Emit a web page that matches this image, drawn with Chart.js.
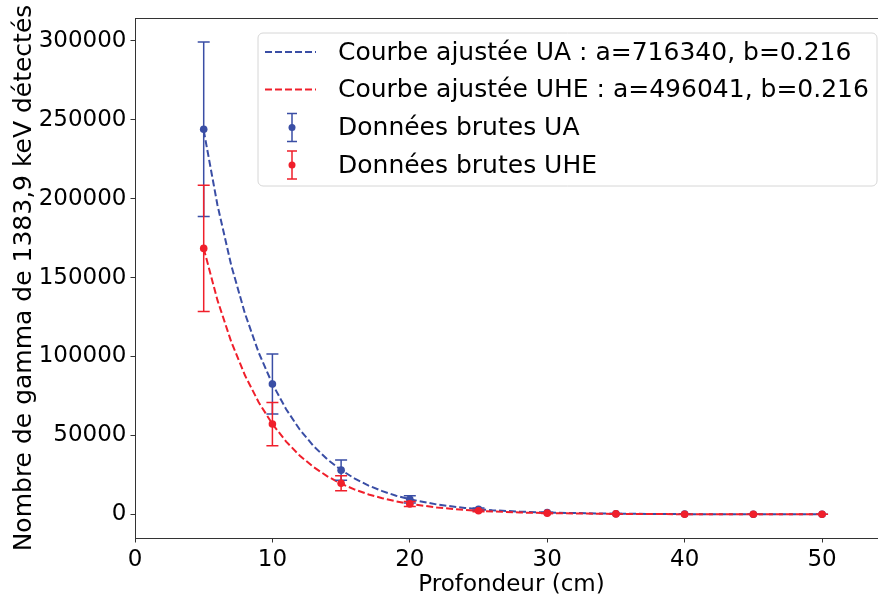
<!DOCTYPE html>
<html>
<head>
<meta charset="utf-8">
<script src="https://cdn.jsdelivr.net/npm/chart.js@4.4.1/dist/chart.umd.min.js"></script>
<style>
  html, body { margin: 0; padding: 0; background: #fff; overflow: hidden; }
  #wrap { width: 878px; height: 599px; overflow: hidden; }
</style>
</head>
<body>
<div id="wrap"><canvas id="graphe" width="888" height="599"></canvas></div>
<script>
// Données brutes
const profondeurs = [5, 10, 15, 20, 25, 30, 35, 40, 45, 50];
const valeursUA = [244000, 82600, 28000, 9500, 3200, 1100, 380, 130, 45, 15];
const erreursUA = [55300, 19000, 6400, 2300, 750, 250, 90, 30, 10, 3];
const valeursUHE = [168500, 57200, 19700, 6600, 2250, 760, 260, 90, 30, 10];
const erreursUHE = [40000, 13700, 4700, 1600, 540, 180, 60, 20, 7, 2];

// Courbes ajustées
const xCourbe = [5, 6, 7, 8, 9, 10, 11, 12, 13, 14, 15, 16, 17, 18, 19, 20, 22, 24, 26, 28, 30, 35, 40, 45, 50];
const courbeUA = [243300, 196000, 157900, 127300, 102500, 82600, 66600, 53600, 43200, 34800, 28100, 22600, 18200, 14700, 11800, 9530, 6190, 4020, 2610, 1690, 1100, 370, 130, 45, 15];
const courbeUHE = [168500, 135700, 109400, 88100, 71000, 57200, 46100, 37100, 29900, 24100, 19400, 15700, 12600, 10200, 8190, 6600, 4280, 2780, 1800, 1170, 760, 260, 90, 30, 10];

// Graduations
const ticksX = [0, 10, 20, 30, 40, 50];
const ticksY = [0, 50000, 100000, 150000, 200000, 250000, 300000];

// Légende
const libelles = [
    "Courbe ajustée UA : a=716340, b=0.216",
    "Courbe ajustée UHE : a=496041, b=0.216",
    "Données brutes UA",
    "Données brutes UHE"
];

const BLEU = "#3a4ea5";
const ROUGE = "#f01f2b";
const AXE = "#333";
const POLICE = "'DejaVu Sans', sans-serif";

function points(xs, ys) {
    return xs.map((x, i) => ({ x: x, y: ys[i] }));
}

// Barres d'erreur
const barresErreur = {
    id: "barresErreur",
    beforeDatasetDraw(chart, args) {
        const ds = chart.data.datasets[args.index];
        if (!ds.erreurs) return;
        const ctx = chart.ctx;
        const sx = chart.scales.x;
        const sy = chart.scales.y;
        ctx.save();
        ctx.strokeStyle = ds.borderColor;
        ctx.lineWidth = 1.5;
        ds.data.forEach((p, i) => {
            const px = sx.getPixelForValue(p.x);
            const haut = sy.getPixelForValue(p.y + ds.erreurs[i]);
            const bas = sy.getPixelForValue(p.y - ds.erreurs[i]);
            ctx.beginPath();
            ctx.moveTo(px, haut);
            ctx.lineTo(px, bas);
            ctx.moveTo(px - 6, haut);
            ctx.lineTo(px + 6, haut);
            ctx.moveTo(px - 6, bas);
            ctx.lineTo(px + 6, bas);
            ctx.stroke();
        });
        ctx.restore();
    }
};

// Cadre + légende
const cadreLegende = {
    id: "cadreLegende",
    afterDraw(chart) {
        const ctx = chart.ctx;
        const a = chart.chartArea;
        ctx.save();
        ctx.strokeStyle = AXE;
        ctx.lineWidth = 1;
        ctx.strokeRect(a.left + 0.5, a.top + 0.5, a.right - a.left - 1, a.bottom - a.top);

        // boîte
        const bx = 258, by = 33, bw = 619, bh = 153, r = 5;
        ctx.beginPath();
        ctx.moveTo(bx + r, by);
        ctx.arcTo(bx + bw, by, bx + bw, by + bh, r);
        ctx.arcTo(bx + bw, by + bh, bx, by + bh, r);
        ctx.arcTo(bx, by + bh, bx, by, r);
        ctx.arcTo(bx, by, bx + bw, by, r);
        ctx.closePath();
        ctx.fillStyle = "rgba(255,255,255,0.8)";
        ctx.fill();
        ctx.strokeStyle = "#d6d6d6";
        ctx.stroke();

        const lignes = [52, 89.5, 127.5, 165];
        const couleurs = [BLEU, ROUGE, BLEU, ROUGE];
        ctx.font = "25px " + POLICE;
        ctx.textBaseline = "middle";
        libelles.forEach((t, i) => {
            const y = lignes[i];
            ctx.strokeStyle = couleurs[i];
            ctx.fillStyle = couleurs[i];
            if (i < 2) {
                ctx.lineWidth = 2;
                ctx.setLineDash([7, 3]);
                ctx.beginPath();
                ctx.moveTo(265, y);
                ctx.lineTo(316, y);
                ctx.stroke();
                ctx.setLineDash([]);
            } else {
                ctx.lineWidth = 1.5;
                ctx.beginPath();
                ctx.moveTo(292, y - 14);
                ctx.lineTo(292, y + 14);
                ctx.moveTo(287, y - 14);
                ctx.lineTo(297, y - 14);
                ctx.moveTo(287, y + 14);
                ctx.lineTo(297, y + 14);
                ctx.stroke();
                ctx.beginPath();
                ctx.arc(292, y, 3.5, 0, Math.PI * 2);
                ctx.fill();
            }
            ctx.fillStyle = "#000";
            ctx.fillText(t, 338, y + 1);
        });
        ctx.restore();
    }
};

const ctx = document.getElementById("graphe");

new Chart(ctx, {
    type: "scatter",
    data: {
        datasets: [
            {
                label: libelles[0],
                data: points(xCourbe, courbeUA),
                showLine: true,
                borderColor: BLEU,
                borderWidth: 2,
                borderDash: [7, 3],
                pointRadius: 0,
                tension: 0,
                order: 4
            },
            {
                label: libelles[1],
                data: points(xCourbe, courbeUHE),
                showLine: true,
                borderColor: ROUGE,
                borderWidth: 2,
                borderDash: [7, 3],
                pointRadius: 0,
                tension: 0,
                order: 3
            },
            {
                label: libelles[2],
                data: points(profondeurs, valeursUA),
                erreurs: erreursUA,
                borderColor: BLEU,
                backgroundColor: BLEU,
                pointRadius: 3.8,
                pointBorderWidth: 0,
                order: 2
            },
            {
                label: libelles[3],
                data: points(profondeurs, valeursUHE),
                erreurs: erreursUHE,
                borderColor: ROUGE,
                backgroundColor: ROUGE,
                pointRadius: 3.8,
                pointBorderWidth: 0,
                order: 1
            }
        ]
    },
    options: {
        responsive: false,
        animation: false,
        layout: { autoPadding: false, padding: { top: 18, right: 0, left: 0, bottom: 0 } },
        plugins: {
            legend: { display: false },
            tooltip: { enabled: false }
        },
        scales: {
            x: {
                type: "linear",
                min: 0,
                max: 54.8,
                afterFit(scale) {
                    scale.height = 61;
                    scale.paddingLeft = 0;
                    scale.paddingRight = 0;
                },
                afterBuildTicks(scale) { scale.ticks = ticksX.map(v => ({ value: v })); },
                grid: { drawOnChartArea: false, drawTicks: true, tickLength: 4.5, color: AXE },
                border: { display: true, color: AXE, width: 1 },
                ticks: {
                    color: "#000",
                    padding: 4,
                    maxRotation: 0,
                    font: { family: POLICE, size: 23 },
                    callback: v => String(v)
                },
                title: {
                    display: true,
                    text: "Profondeur (cm)",
                    color: "#000",
                    padding: { top: 0, bottom: 0 },
                    font: { family: POLICE, size: 23 }
                }
            },
            y: {
                type: "linear",
                min: -15000,
                max: 314500,
                afterFit(scale) {
                    scale.width = 135;
                    scale.paddingTop = 0;
                    scale.paddingBottom = 0;
                },
                afterBuildTicks(scale) { scale.ticks = ticksY.map(v => ({ value: v })); },
                grid: { drawOnChartArea: false, drawTicks: true, tickLength: 4.5, color: AXE },
                border: { display: true, color: AXE, width: 1 },
                ticks: {
                    color: "#000",
                    padding: 4,
                    font: { family: POLICE, size: 23 },
                    callback: v => String(v)
                },
                title: {
                    display: true,
                    text: "Nombre de gamma de 1383,9 keV détectés",
                    color: "#000",
                    padding: { top: 9, bottom: 0 },
                    font: { family: POLICE, size: 25 }
                }
            }
        }
    },
    plugins: [barresErreur, cadreLegende]
});
</script>
</body>
</html>
